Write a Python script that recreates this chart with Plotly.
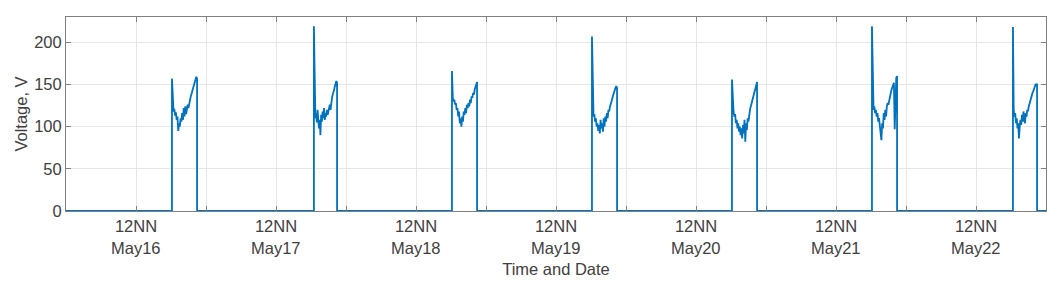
"""
Daily voltage pulses, May 16-22, MATLAB-like styling.
"""
import pandas as pd
import plotly.graph_objects as go

# x-axis window and tick marks
x_start = "2021-05-16 00:00"
x_end = "2021-05-23 00:00"
day_labels = ["May16", "May17", "May18", "May19", "May20", "May21", "May22"]
y_ticks = [0, 50, 100, 150, 200]

# one voltage burst per evening: on time, off time and the samples in between
pulse_days = ["2021-05-16", "2021-05-17", "2021-05-18", "2021-05-19",
              "2021-05-20", "2021-05-21", "2021-05-22"]
pulse_on = ["18:10", "18:30", "18:10", "18:10", "18:10", "18:10", "18:20"]
pulse_off = ["22:28", "22:28", "22:28", "22:28", "22:28", "22:28", "22:28"]

volts_may16 = [157, 123, 118, 121, 113, 117, 108, 112, 95, 104, 100, 110, 106, 116, 108, 122,
               112, 124, 115, 120, 126, 122, 128, 132, 136, 139, 143, 147, 150, 153, 156, 159, 157]
volts_may17 = [219, 122, 110, 116, 105, 120, 112, 98, 108, 90, 114, 106, 118, 110, 122, 108,
               116, 112, 120, 114, 118, 122, 126, 120, 130, 134, 138, 140, 144, 148, 150, 154, 152]
volts_may18 = [166, 135, 130, 132, 126, 128, 120, 122, 112, 118, 104, 110, 100, 112, 106, 118,
               114, 122, 116, 126, 122, 128, 124, 132, 128, 136, 134, 140, 138, 144, 148, 152, 153]
volts_may19 = [207, 118, 112, 115, 106, 110, 100, 104, 95, 102, 92, 108, 98, 104, 94, 110,
               100, 112, 106, 116, 110, 120, 118, 124, 126, 130, 134, 138, 140, 144, 146, 148, 146]
volts_may20 = [156, 125, 118, 112, 115, 104, 108, 98, 104, 94, 100, 90, 98, 86, 102, 92,
               108, 82, 104, 96, 110, 106, 116, 120, 124, 128, 132, 136, 140, 144, 148, 152, 153]
volts_may21 = [219, 128, 120, 124, 116, 120, 112, 116, 106, 110, 100, 96, 84, 104, 98, 116,
               108, 120, 112, 124, 128, 126, 132, 136, 140, 144, 146, 150, 152, 97, 155, 158, 160]
volts_may22 = [218, 120, 112, 116, 104, 110, 98, 104, 86, 100, 108, 102, 114, 106, 118, 110,
               104, 116, 112, 120, 118, 124, 128, 130, 134, 136, 140, 142, 146, 148, 150, 150, 150]
pulse_volts = [volts_may16, volts_may17, volts_may18, volts_may19,
               volts_may20, volts_may21, volts_may22]

# build the full trace: zero between pulses, vertical edges at on/off
times = [pd.Timestamp(x_start)]
volts = [0]
for day, on, off, vals in zip(pulse_days, pulse_on, pulse_off, pulse_volts):
    t_on = pd.Timestamp(f"{day} {on}")
    t_off = pd.Timestamp(f"{day} {off}")
    samples = pd.date_range(t_on, t_off, periods=len(vals))
    times.append(t_on)
    volts.append(0)
    times.extend(samples)
    volts.extend(vals)
    times.append(t_off)
    volts.append(0)
times.append(pd.Timestamp(x_end))
volts.append(0)

# ticks every 12 h, "12NN" only at noon; day names go in a second row
tick_vals = pd.date_range(x_start, x_end, freq="12h")
tick_text = ["12NN" if t.hour == 12 else "" for t in tick_vals]
noons = [t for t in tick_vals if t.hour == 12]

fig = go.Figure()
fig.add_trace(go.Scatter(
    x=times, y=volts, mode="lines",
    line=dict(color="#0072BD", width=1.8),
    showlegend=False,
))

axis_font = dict(family="Liberation Sans, Arial, sans-serif", size=16.5, color="#404040")
for t, lab in zip(noons, day_labels):
    fig.add_annotation(
        x=t, y=0, xref="x", yref="paper", text=lab, showarrow=False,
        yanchor="top", yshift=-26, font=axis_font,
    )

# page body adds an 8px offset, so margins are shifted to compensate
fig.update_layout(
    width=1064, height=290,
    margin=dict(l=58, r=26, t=9, b=87),
    plot_bgcolor="white", paper_bgcolor="white",
    font=axis_font,
)
fig.update_xaxes(
    range=[x_start, x_end], automargin=False,
    tickmode="array", tickvals=tick_vals, ticktext=tick_text,
    ticks="inside", ticklen=5, tickcolor="#808080",
    showline=True, linecolor="#808080", linewidth=1, mirror="ticks",
    showgrid=True, gridcolor="#e6e6e6", gridwidth=1,
    zeroline=False,
    title=dict(text="Time and Date", font=axis_font, standoff=29),
    tickfont=axis_font,
)
fig.update_yaxes(
    range=[0, 230], automargin=False,
    tickmode="array", tickvals=y_ticks,
    ticks="inside", ticklen=5, tickcolor="#808080",
    showline=True, linecolor="#808080", linewidth=1, mirror="ticks",
    showgrid=True, gridcolor="#e6e6e6", gridwidth=1,
    zeroline=False,
    title=dict(text="Voltage, V", font=axis_font, standoff=2),
    tickfont=axis_font,
)

fig.write_html("out.html")
